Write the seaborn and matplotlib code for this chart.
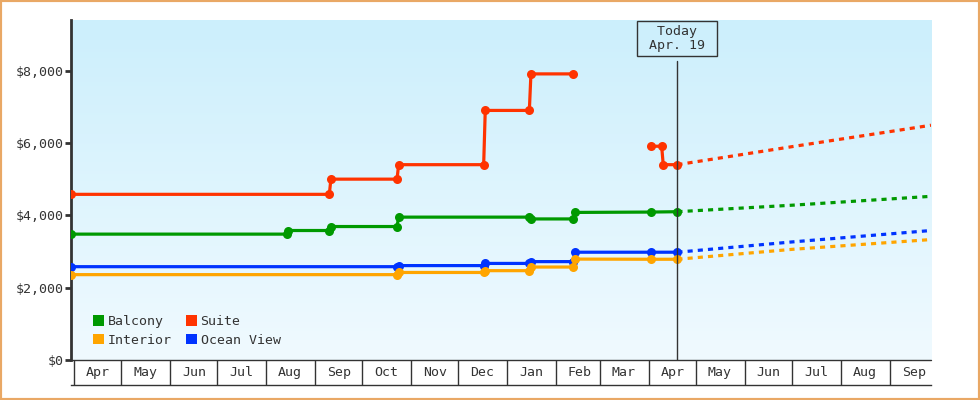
import numpy as np
import pandas as pd
import matplotlib
matplotlib.use("Agg")
import matplotlib.pyplot as plt
import matplotlib.dates as mdates
from matplotlib.colors import LinearSegmentedColormap
from matplotlib.patches import Patch, Rectangle
from matplotlib.ticker import FuncFormatter, NullFormatter
import seaborn as sns

# price history per cabin (segment id splits gaps in a series)
suite_dates = ["2017-03-30", "2017-09-10", "2017-09-11", "2017-10-23", "2017-10-24",
               "2017-12-17", "2017-12-18", "2018-01-15", "2018-01-16", "2018-02-12",
               "2018-04-02", "2018-04-09", "2018-04-10", "2018-04-19"]
suite_prices = [4580, 4580, 5000, 5000, 5400, 5400, 6900, 6900, 7910, 7910,
                5910, 5910, 5400, 5400]
suite_segment = [0, 0, 0, 0, 0, 0, 0, 0, 0, 0, 1, 1, 1, 1]

balcony_dates = ["2017-03-30", "2017-08-14", "2017-08-15", "2017-09-10", "2017-09-11",
                 "2017-10-23", "2017-10-24", "2018-01-15", "2018-01-16", "2018-02-12",
                 "2018-02-13", "2018-04-02", "2018-04-19"]
balcony_prices = [3480, 3480, 3580, 3580, 3690, 3690, 3950, 3950, 3900, 3900,
                  4080, 4090, 4100]

ocean_dates = ["2017-03-30", "2017-10-23", "2017-10-24", "2017-12-17", "2017-12-18",
               "2018-01-15", "2018-01-16", "2018-02-12", "2018-02-13", "2018-04-02",
               "2018-04-19"]
ocean_prices = [2580, 2580, 2610, 2610, 2670, 2670, 2720, 2720, 2980, 2980, 2980]

interior_dates = ["2017-03-30", "2017-10-23", "2017-10-24", "2017-12-17", "2017-12-18",
                  "2018-01-15", "2018-01-16", "2018-02-12", "2018-02-13", "2018-04-02",
                  "2018-04-19"]
interior_prices = [2360, 2360, 2420, 2420, 2470, 2470, 2570, 2570, 2790, 2785, 2785]

# projected prices
proj_dates = ["2018-04-19", "2018-07-01", "2018-09-27"]
suite_proj = [5400, 5900, 6490]
balcony_proj = [4100, 4280, 4525]
ocean_proj = [2980, 3265, 3580]
interior_proj = [2785, 3060, 3330]

today = "2018-04-19"
x_start, x_end = "2017-03-30", "2018-09-27"

cabins = ["Balcony", "Interior", "Suite", "Ocean View"]
colors = {"Balcony": "#009900", "Interior": "#FFA500",
          "Suite": "#FF3300", "Ocean View": "#0033FF"}
ink = "#333333"

hist = pd.concat([
    pd.DataFrame({"date": suite_dates, "price": suite_prices, "cabin": "Suite",
                  "seg": [f"Suite{s}" for s in suite_segment]}),
    pd.DataFrame({"date": balcony_dates, "price": balcony_prices, "cabin": "Balcony", "seg": "Balcony0"}),
    pd.DataFrame({"date": ocean_dates, "price": ocean_prices, "cabin": "Ocean View", "seg": "Ocean0"}),
    pd.DataFrame({"date": interior_dates, "price": interior_prices, "cabin": "Interior", "seg": "Interior0"}),
], ignore_index=True)
hist["date"] = pd.to_datetime(hist["date"])

proj = pd.concat([
    pd.DataFrame({"date": proj_dates, "price": suite_proj, "cabin": "Suite"}),
    pd.DataFrame({"date": proj_dates, "price": balcony_proj, "cabin": "Balcony"}),
    pd.DataFrame({"date": proj_dates, "price": ocean_proj, "cabin": "Ocean View"}),
    pd.DataFrame({"date": proj_dates, "price": interior_proj, "cabin": "Interior"}),
], ignore_index=True)
proj["date"] = pd.to_datetime(proj["date"])

sns.set_style("white")
plt.rcParams["font.family"] = ["DejaVu Sans Mono"]
fs = 9.5

fig = plt.figure(figsize=(9.8, 4.0), dpi=100)
ax = fig.add_axes([71 / 980, 40 / 400, 860 / 980, 340 / 400])

# gradient background
grad = np.linspace(0, 1, 256).reshape(-1, 1)
cmap = LinearSegmentedColormap.from_list("bg", ["#CCEFFC", "#F0FAFF"])
ax.imshow(grad, cmap=cmap, extent=[0, 1, 0, 1], transform=ax.transAxes,
          aspect="auto", origin="upper", zorder=0)

sns.lineplot(data=proj, x="date", y="price", hue="cabin", palette=colors,
             estimator=None, sort=False, legend=False, ax=ax,
             linewidth=2.3, linestyle=(0, (1.6, 1.6)), zorder=2)
sns.lineplot(data=hist, x="date", y="price", hue="cabin", units="seg",
             palette=colors, estimator=None, sort=False, legend=False, ax=ax,
             linewidth=2.3, marker="o", markersize=6.5, markeredgewidth=0, zorder=3)

ax.set_xlim(pd.Timestamp(x_start), pd.Timestamp(x_end))
ax.set_ylim(0, 9400)
ax.set_xlabel("")
ax.set_ylabel("")

# y axis
ax.set_yticks([0, 2000, 4000, 6000, 8000])
ax.yaxis.set_major_formatter(FuncFormatter(lambda v, p: f"${v:,.0f}"))
ax.tick_params(axis="y", left=True, length=4, width=2, color=ink, labelsize=fs,
               labelcolor=ink, pad=1)
for s in ["top", "right"]:
    ax.spines[s].set_visible(False)
ax.spines["left"].set_color(ink)
ax.spines["left"].set_linewidth(2)

# x axis as boxed month cells
ax.spines["bottom"].set_position(("outward", 18))
ax.spines["bottom"].set_color(ink)
ax.spines["bottom"].set_linewidth(1)
ax.axhline(0, color=ink, lw=1, clip_on=False, zorder=4)
ax.xaxis.set_major_locator(mdates.MonthLocator())
ax.xaxis.set_major_formatter(NullFormatter())
ax.xaxis.set_minor_locator(mdates.MonthLocator(bymonthday=16))
ax.xaxis.set_minor_formatter(mdates.DateFormatter("%b"))
ax.tick_params(axis="x", which="major", bottom=True, direction="in", length=18,
               width=1, color=ink)
ax.tick_params(axis="x", which="minor", bottom=True, length=0, pad=-14,
               labelsize=fs, labelcolor=ink)

# today marker
ax.axvline(pd.Timestamp(today), ymin=0, ymax=(360 - 61) / 340, color=ink, lw=1, zorder=4)
ax.text(pd.Timestamp(today), 1 - 4.5 / 340, " Today \n Apr. 19 ",
        transform=ax.get_xaxis_transform(), ha="center", va="top",
        fontsize=fs, color=ink, linespacing=1.15,
        bbox=dict(boxstyle="square,pad=0.3", fc="none", ec=ink, lw=1), zorder=5)

# legend
handles = [Patch(facecolor=colors[c], edgecolor="none", label=c) for c in cabins]
ax.legend(handles=handles, ncol=2, loc="lower left", frameon=False,
          bbox_to_anchor=(22 / 860, 13 / 340), borderaxespad=0, borderpad=0,
          handlelength=0.8, handleheight=0.8, handletextpad=0.3,
          columnspacing=1.1, labelspacing=0.45, fontsize=fs, labelcolor=ink)

# orange frame round the figure
fig.patches.append(Rectangle((0, 0), 1, 1, transform=fig.transFigure, fill=False,
                             edgecolor="#E9A865", linewidth=3))

fig.savefig("out.png", dpi=100)
